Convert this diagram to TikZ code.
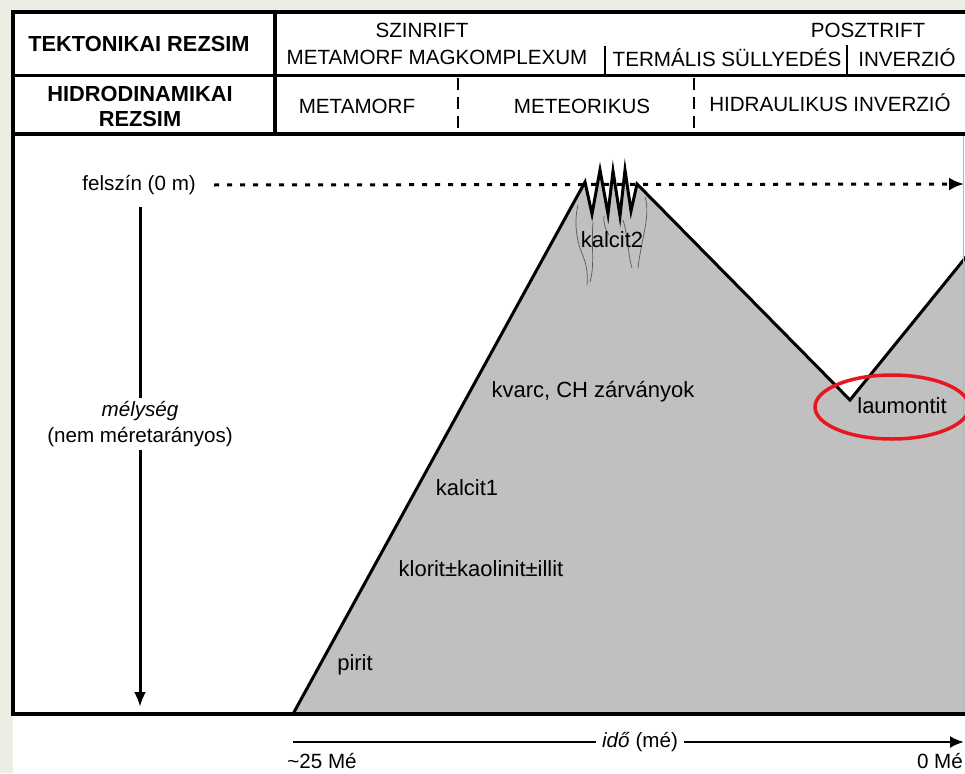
\documentclass[tikz,border=0pt]{standalone}
\usepackage{fontspec}
\setmainfont{Liberation Sans}
\usetikzlibrary{arrows.meta}
\definecolor{paper}{HTML}{EDEDE3}
\definecolor{rock}{HTML}{C0C0C0}
\definecolor{ring}{HTML}{E8171F}
\tikzset{
  lbl/.style={font=\fontsize{22}{24}\selectfont, inner sep=0pt},
  captext/.style={font=\fontsize{20.6}{23}\selectfont, inner sep=0pt},
  hdr/.style={font=\bfseries\fontsize{21.8}{25}\selectfont, inner sep=0pt, align=center},
  rule/.style={line width=3.5pt},
  divider/.style={line width=2.5pt},
  slope/.style={line width=3pt, line join=miter},
  vein/.style={gray!70!black, line width=0.7pt},
}
\begin{document}
\begin{tikzpicture}[x=1pt,y=-1pt]
  \useasboundingbox (0,0) rectangle (965,773);
  \clip (0,0) rectangle (965,773);
  \fill[paper] (0,0) rectangle (965,773);
  \fill[white] (13,12) rectangle (975,780);
  % rock body with the zigzag top
  \fill[rock] (293,714) -- (585,182) -- (592,214) -- (600,170) -- (608,214) -- (613,171)
    -- (620,216) -- (625,170) -- (631,211) -- (637,184) -- (850,400) -- (970,252)
    -- (970,714) -- cycle;
  \draw[vein] (578,205) .. controls (573,225) and (578,245) .. (583,256) .. controls (587,266) and (588,276) .. (587,285);
  \draw[vein] (593,222) .. controls (591,245) and (595,265) .. (590,282);
  \draw[vein] (604,216) .. controls (603,224) and (606,230) .. (609,235);
  \draw[vein] (623,220) .. controls (628,235) and (628,255) .. (632,268);
  \draw[vein] (645,197) .. controls (651,215) and (641,240) .. (638,268);
  \draw[slope] (293,714) -- (585,182) -- (592,214) -- (600,170) -- (608,214) -- (613,171)
    -- (620,216) -- (625,170) -- (631,211) -- (637,184) -- (850,400) -- (970,252);
  \draw[gray!60, line width=1pt] (963,135) -- (963,714);
  % table frame
  \draw[rule] (13,12) -- (975,12);
  \draw[rule] (13,75.5) -- (975,75.5);
  \draw[rule] (13,134) -- (975,134);
  \draw[rule] (13,714) -- (975,714);
  \draw[rule] (13,10.25) -- (13,715.75);
  \draw[rule] (275,12) -- (275,134);
  \draw[divider] (605,46) -- (605,75);
  \draw[divider] (847,45) -- (847,75);
  \draw[divider, dash pattern=on 12pt off 7pt] (458,78) -- (458,132);
  \draw[divider, dash pattern=on 12pt off 7pt] (694,78) -- (694,132);
  % header texts
  \node[hdr] (tekt) at (139,44) {TEKTONIKAI REZSIM};
  \node[hdr] (hidro) at (140,106) {HIDRODINAMIKAI\\REZSIM};
  \node[captext] (szin) at (422,30) {SZINRIFT};
  \node[captext] (poszt) at (868,30) {POSZTRIFT};
  \node[captext] (magk) at (437,57) {METAMORF MAGKOMPLEXUM};
  \node[captext] (termal) at (727,58) {TERMÁLIS SÜLLYEDÉS};
  \node[captext] (inverz) at (907,58) {INVERZIÓ};
  \node[captext] (metam) at (357,106) {METAMORF};
  \node[captext] (meteor) at (582,106) {METEORIKUS};
  \node[captext] (hidraul) at (830,103) {HIDRAULIKUS INVERZIÓ};
  % axes
  \node[captext, anchor=east] (felszin) at (196,185) {felszín (0 m)};
  \coordinate (surfEnd) at (964,184);
  \draw[line width=3pt, dash pattern=on 5pt off 8pt, -{Latex[length=15pt,width=13pt]}]
    ([xshift=18pt]felszin.east) -- (surfEnd);
  \node[captext, align=center, inner sep=3pt, font=\fontsize{20.6}{26}\selectfont] (melyseg) at (140,424)
    {\textit{mélység}\\(nem méretarányos)};
  \coordinate (depthTop) at (140,207);
  \coordinate (depthEnd) at (140,707);
  \draw[line width=3pt] (depthTop) -- (melyseg.north);
  \draw[line width=3pt, -{Latex[length=15pt,width=12pt]}] (melyseg.south) -- (depthEnd);
  \node[captext, inner sep=6pt] (ido) at (640,742) {\textit{idő} (mé)};
  \coordinate (timeStart) at (293,742);
  \coordinate (timeEnd) at (964,742);
  \draw[line width=2.5pt] (timeStart) -- (ido.west);
  \draw[line width=2.5pt, -{Latex[length=14pt,width=12pt]}] (ido.east) -- (timeEnd);
  \node[captext] (t25) at (322,761) {\char`\~25 Mé};
  \node[captext, anchor=east] (t0) at (963,761) {0 Mé};
  % minerals
  \node[lbl] (kalcitB) at (612,240) {kalcit2};
  \node[lbl] (kvarc) at (593,392) {kvarc, CH zárványok};
  \node[lbl] (kalcitA) at (467,488) {kalcit1};
  \node[lbl] (klorit) at (481,569) {klorit±kaolinit±illit};
  \node[lbl] (pirit) at (355,665) {pirit};
  \node[lbl] (laum) at (902,406) {laumontit};
  \draw[ring, line width=3.5pt] (892,407) ellipse [x radius=77pt, y radius=32pt];
\end{tikzpicture}
\end{document}
